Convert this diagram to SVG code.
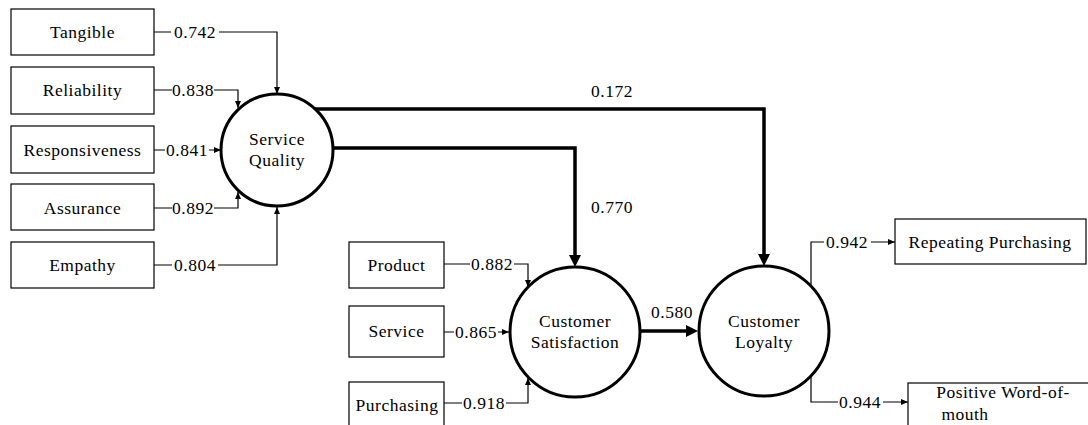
<svg xmlns="http://www.w3.org/2000/svg" width="1088" height="425" viewBox="0 0 1088 425">
<style>
text{font-family:"Liberation Serif","DejaVu Serif","Times New Roman",serif;font-size:17.5px;letter-spacing:0.5px;fill:#000;text-anchor:middle}
.box{fill:#fff;stroke:#000;stroke-width:1.2}
.lat{fill:#fff;stroke:#000;stroke-width:3}
.t{fill:none;stroke:#000;stroke-width:1.2}
.k{fill:none;stroke:#000;stroke-width:3.5}
</style>
<defs>
<marker id="a" markerUnits="userSpaceOnUse" markerWidth="8" markerHeight="6" refX="7" refY="3" orient="auto"><path d="M0,0 L7,3 L0,6 z" fill="#000"/></marker>
<marker id="b" markerUnits="userSpaceOnUse" markerWidth="13" markerHeight="12" refX="0" refY="6" orient="auto"><path d="M0,0 L12,6 L0,12 z" fill="#000"/></marker>
</defs>
<rect width="1088" height="425" fill="#fff"/>
<g id="connectors">
<path class="t" d="M154,32 H171 M219,32 H277 V94" marker-end="url(#a)"/>
<path class="t" d="M154,90 H172 M214,90 H238 V108" marker-end="url(#a)"/>
<path class="t" d="M154,150 H165 M209,150 H221" marker-end="url(#a)"/>
<path class="t" d="M154,208 H172 M214,208 H238 V192" marker-end="url(#a)"/>
<path class="t" d="M154,265 H172 M218,265 H277 V207" marker-end="url(#a)"/>
<path class="t" d="M444,264 H470 M514,264 H528 V287" marker-end="url(#a)"/>
<path class="t" d="M444,332 H454 M498,332 H509" marker-end="url(#a)"/>
<path class="t" d="M444,403 H462 M506,403 H528 V378" marker-end="url(#a)"/>
<path class="t" d="M811,287 V242 H824 M871,242 H895" marker-end="url(#a)"/>
<path class="t" d="M811,376 V402 H838 M883,402 H908" marker-end="url(#a)"/>
<path class="k" d="M315,109 H764 V254" marker-end="url(#b)"/>
<path class="k" d="M333,148 H575 V255" marker-end="url(#b)"/>
<path class="k" d="M641,331 H686" marker-end="url(#b)"/>
<text x="195" y="38">0.742</text>
<text x="193" y="96">0.838</text>
<text x="187" y="156">0.841</text>
<text x="193" y="214">0.892</text>
<text x="195" y="271">0.804</text>
<text x="492" y="270">0.882</text>
<text x="476" y="338">0.865</text>
<text x="484" y="409">0.918</text>
<text x="847" y="248">0.942</text>
<text x="860" y="408">0.944</text>
<text x="612" y="97">0.172</text>
<text x="612" y="213">0.770</text>
<text x="672" y="318">0.580</text>
</g>
<g id="tangible"><rect class="box" x="11" y="9" width="143" height="46"/><text x="82.5" y="38">Tangible</text></g>
<g id="reliability"><rect class="box" x="11" y="67" width="143" height="47"/><text x="82.5" y="96">Reliability</text></g>
<g id="responsiveness"><rect class="box" x="11" y="126" width="143" height="47"/><text x="82.5" y="156">Responsiveness</text></g>
<g id="assurance"><rect class="box" x="11" y="184" width="143" height="46"/><text x="82.5" y="214">Assurance</text></g>
<g id="empathy"><rect class="box" x="11" y="242" width="143" height="46"/><text x="82.5" y="271">Empathy</text></g>
<g id="service-quality"><circle class="lat" cx="277" cy="150" r="56"/><text x="277" y="145">Service</text><text x="277" y="166">Quality</text></g>
<g id="product"><rect class="box" x="349" y="242" width="95" height="46"/><text x="396.5" y="271">Product</text></g>
<g id="service"><rect class="box" x="349" y="306" width="95" height="51"/><text x="396.5" y="337">Service</text></g>
<g id="purchasing"><rect class="box" x="349" y="382" width="95" height="50"/><text x="397" y="411">Purchasing</text></g>
<g id="customer-satisfaction"><circle class="lat" cx="575" cy="332" r="65"/><text x="575" y="327">Customer</text><text x="575" y="348">Satisfaction</text></g>
<g id="customer-loyalty"><circle class="lat" cx="764" cy="331" r="65"/><text x="764" y="327">Customer</text><text x="764" y="348">Loyalty</text></g>
<g id="repeating-purchasing"><rect class="box" x="895" y="219" width="191" height="45"/><text x="990" y="248">Repeating Purchasing</text></g>
<g id="positive-wom"><rect class="box" x="908" y="383" width="190" height="50"/><text x="1003" y="398">Positive Word-of-</text><text x="965" y="420">mouth</text></g>
</svg>
